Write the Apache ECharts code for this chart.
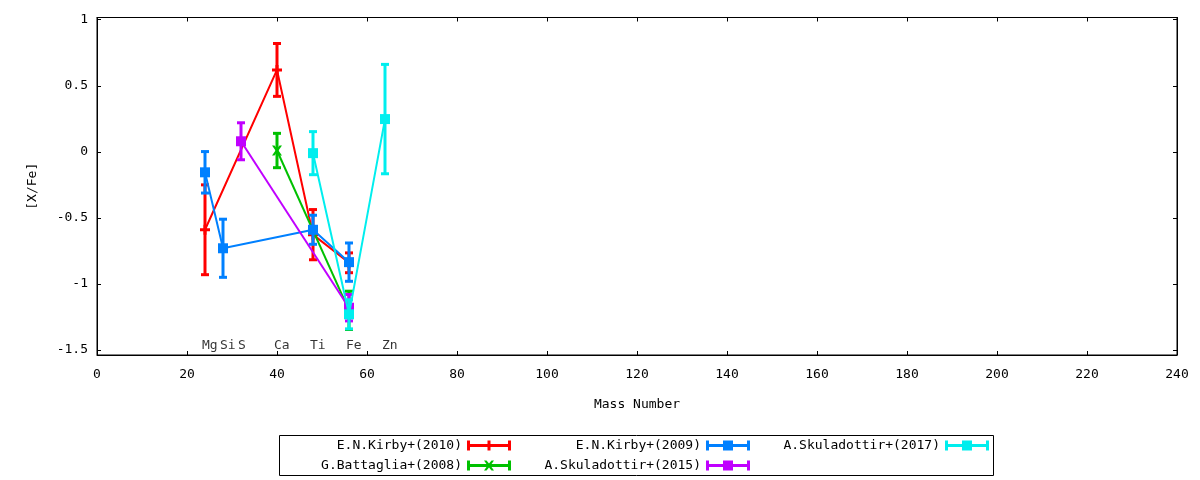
<!DOCTYPE html>
<html>
<head>
<meta charset="utf-8">
<script src="https://cdn.jsdelivr.net/npm/echarts@6/dist/echarts.min.js"></script>
<style>
  html, body { margin: 0; padding: 0; background: #fff; }
  #main { width: 1200px; height: 480px; }
</style>
</head>
<body>
<div id="main"></div>
<script>
// element labels along the bottom of the plot
var elements = ['Mg', 'Si', 'S', 'Ca', 'Ti', 'Fe', 'Zn'];
var elementMass = [24, 28, 32, 40, 48, 56, 64];
var elementLabelY = -1.47;

// [X/Fe] per data set: mass number, value, error
var kirby2010Mass = [24, 40, 48, 56];
var kirby2010Val = [-0.59, 0.62, -0.627, -0.84];
var kirby2010Err = [0.34, 0.20, 0.19, 0.075];

var battaglia2008Mass = [40, 56];
var battaglia2008Val = [0.01, -1.2];
var battaglia2008Err = [0.13, 0.145];

var kirby2009Mass = [24, 28, 48, 56];
var kirby2009Val = [-0.155, -0.73, -0.59, -0.835];
var kirby2009Err = [0.157, 0.22, 0.11, 0.145];

var skuladottir2015Mass = [32, 56];
var skuladottir2015Val = [0.08, -1.18];
var skuladottir2015Err = [0.14, 0.10];

var skuladottir2017Mass = [48, 56, 64];
var skuladottir2017Val = [-0.01, -1.23, 0.248];
var skuladottir2017Err = [0.163, 0.11, 0.414];

var yTicks = [-1.5, -1, -0.5, 0, 0.5, 1];

var FONT = 'DejaVu Sans Mono';

// legend icons: errorbar line with caps plus the point marker
var ICON_BASE = 'M0,0h3v3.5h38v-3.5h3v10h-3v-3.5h-38v3.5h-3z';
var ICON_SQUARE = ' M17,0h10v10h-10z';
var ICON_PLUS = ' M20.5,0h3v10h-3z';
var ICON_CROSS = ' M17,0h2.5l2.5,3l2.5,-3h2.5l-3.5,5l3.5,5h-2.5l-2.5,-3l-2.5,3h-2.5l3.5,-5z';

var SYM_PLUS = 'path://M3.5,0h3v3.5h3.5v3h-3.5v3.5h-3v-3.5h-3.5v-3h3.5z';
var SYM_CROSS = 'path://M0,0h2.5l2.5,3l2.5,-3h2.5l-3.5,5l3.5,5h-2.5l-2.5,-3l-2.5,3h-2.5l3.5,-5z';

var sets = [
    { name: 'E.N.Kirby+(2010)', color: '#ff0000', mass: kirby2010Mass, val: kirby2010Val, err: kirby2010Err, symbol: SYM_PLUS, icon: ICON_BASE + ICON_PLUS },
    { name: 'G.Battaglia+(2008)', color: '#00c000', mass: battaglia2008Mass, val: battaglia2008Val, err: battaglia2008Err, symbol: SYM_CROSS, icon: ICON_BASE + ICON_CROSS },
    { name: 'E.N.Kirby+(2009)', color: '#0080ff', mass: kirby2009Mass, val: kirby2009Val, err: kirby2009Err, symbol: 'rect', icon: ICON_BASE + ICON_SQUARE },
    { name: 'A.Skuladottir+(2015)', color: '#c000ff', mass: skuladottir2015Mass, val: skuladottir2015Val, err: skuladottir2015Err, symbol: 'rect', icon: ICON_BASE + ICON_SQUARE },
    { name: 'A.Skuladottir+(2017)', color: '#00eeee', mass: skuladottir2017Mass, val: skuladottir2017Val, err: skuladottir2017Err, symbol: 'rect', icon: ICON_BASE + ICON_SQUARE }
];

function errorBarItem(params, api) {
    var x = api.value(0), y = api.value(1), e = api.value(2);
    var top = api.coord([x, y + e]);
    var bot = api.coord([x, y - e]);
    var half = 4;
    var style = { stroke: api.visual('color'), lineWidth: 3 };
    return {
        type: 'group',
        children: [
            { type: 'line', shape: { x1: top[0], y1: top[1], x2: bot[0], y2: bot[1] }, style: style },
            { type: 'line', shape: { x1: top[0] - half, y1: top[1], x2: top[0] + half, y2: top[1] }, style: style },
            { type: 'line', shape: { x1: bot[0] - half, y1: bot[1], x2: bot[0] + half, y2: bot[1] }, style: style }
        ]
    };
}

// each data set drawn in plot order: errorbars, then line and points
var series = [];
sets.forEach(function (s, k) {
    var pts = s.mass.map(function (m, i) { return [m, s.val[i]]; });
    var bars = s.mass.map(function (m, i) { return [m, s.val[i], s.err[i]]; });
    series.push({
        name: s.name,
        type: 'custom',
        renderItem: errorBarItem,
        itemStyle: { color: s.color },
        encode: { x: 0, y: 1 },
        data: bars,
        z: 10 + k * 2,
        silent: true
    });
    series.push({
        name: s.name,
        type: 'line',
        data: pts,
        symbol: s.symbol,
        symbolSize: 10,
        showAllSymbol: true,
        itemStyle: { color: s.color },
        lineStyle: { color: s.color, width: 2 },
        emphasis: { disabled: true },
        z: 11 + k * 2,
        silent: true
    });
});

series.push({
    type: 'scatter',
    data: elementMass.map(function (m, i) { return { value: [m, elementLabelY], name: elements[i] }; }),
    symbolSize: 0.01,
    itemStyle: { color: 'rgba(0,0,0,0)' },
    label: {
        show: true,
        formatter: '{b}',
        position: [-3, 0],
        align: 'left',
        verticalAlign: 'middle',
        color: '#000',
        fontFamily: FONT,
        fontSize: 13
    },
    z: 30,
    silent: true
});

function legendCol(names, right) {
    return {
        orient: 'vertical',
        align: 'right',
        right: right,
        top: 439,
        padding: 0,
        itemWidth: 44,
        itemHeight: 10,
        itemGap: 7,
        selectedMode: false,
        itemStyle: { borderWidth: 0 },
        textStyle: { fontFamily: FONT, fontSize: 13, color: '#000' },
        data: names.map(function (n) {
            var s = sets.filter(function (t) { return t.name === n; })[0];
            return { name: n, icon: 'path://' + s.icon, itemStyle: { color: s.color, borderWidth: 0 } };
        })
    };
}

var axisFont = { fontFamily: FONT, fontSize: 13, color: '#000' };
var frameLine = { show: true, onZero: false, lineStyle: { color: '#000', width: 1 } };
var tickStyle = { color: '#000', width: 1 };

var option = {
    animation: false,
    backgroundColor: '#fff',
    grid: {
        left: 97, right: 23, top: 17.5, bottom: 125,
        show: true, borderColor: '#000', borderWidth: 1
    },
    xAxis: [{
        type: 'value', min: 0, max: 240, interval: 20,
        position: 'bottom',
        name: 'Mass Number', nameLocation: 'middle', nameGap: 43,
        nameTextStyle: axisFont,
        axisLine: frameLine,
        axisTick: { show: true, inside: true, length: 4, lineStyle: tickStyle },
        axisLabel: { margin: 13, fontFamily: FONT, fontSize: 13, color: '#000' },
        splitLine: { show: false }
    }, {
        type: 'value', min: 0, max: 240, interval: 20,
        position: 'top',
        axisLine: frameLine,
        axisTick: { show: true, inside: true, length: 4, lineStyle: tickStyle },
        axisLabel: { show: false },
        splitLine: { show: false }
    }],
    yAxis: [{
        type: 'value', min: -1.538, max: 1.017,
        position: 'left',
        name: '[X/Fe]', nameLocation: 'middle', nameGap: 58,
        nameTextStyle: axisFont,
        axisLine: frameLine,
        axisTick: { show: true, inside: true, length: 4, customValues: yTicks, lineStyle: tickStyle },
        axisLabel: { margin: 9, customValues: yTicks, fontFamily: FONT, fontSize: 13, color: '#000' },
        splitLine: { show: false }
    }, {
        type: 'value', min: -1.538, max: 1.017,
        position: 'right',
        axisLine: frameLine,
        axisTick: { show: true, inside: true, length: 4, customValues: yTicks, lineStyle: tickStyle },
        axisLabel: { show: false },
        splitLine: { show: false }
    }],
    legend: [
        legendCol(['E.N.Kirby+(2010)', 'G.Battaglia+(2008)'], 689),
        legendCol(['E.N.Kirby+(2009)', 'A.Skuladottir+(2015)'], 450),
        legendCol(['A.Skuladottir+(2017)'], 211)
    ],
    graphic: [{
        type: 'rect',
        shape: { x: 279.5, y: 435.5, width: 714, height: 40 },
        style: { fill: 'none', stroke: '#000', lineWidth: 1 },
        silent: true
    }],
    series: series
};

var chart = echarts.init(document.getElementById('main'));
chart.setOption(option);
</script>
</body>
</html>
